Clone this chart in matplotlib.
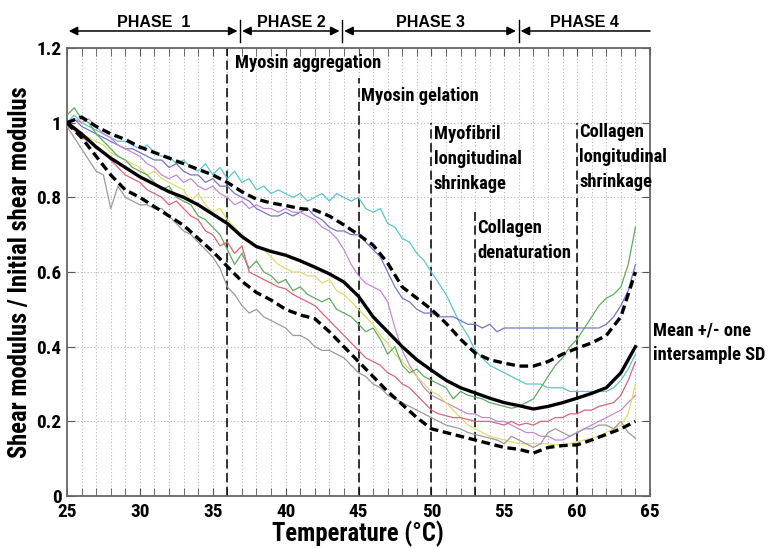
import matplotlib
matplotlib.use('Agg')
import matplotlib.pyplot as plt
import matplotlib.font_manager as fm
import matplotlib.transforms as mtransforms
import numpy as np

# Temperature grids (deg C)
temp_fine = np.arange(25.0, 64.01, 0.5)
temp = np.arange(25, 65)

# Individual samples (normalised shear modulus), read every 0.5 deg C
cyan_s = [1.00, 1.02, 1.00, 0.99, 0.98, 0.97, 0.96, 0.95, 0.95, 0.94, 0.93, 0.94, 0.92, 0.91, 0.91, 0.89,
          0.90, 0.88, 0.87, 0.89, 0.86, 0.88, 0.85, 0.87, 0.84, 0.85, 0.82, 0.83, 0.81, 0.82, 0.81, 0.80,
          0.81, 0.79, 0.80, 0.81, 0.79, 0.81, 0.80, 0.79, 0.80, 0.77, 0.76, 0.77, 0.73, 0.72, 0.69, 0.68,
          0.65, 0.63, 0.60, 0.57, 0.54, 0.50, 0.46, 0.43, 0.39, 0.37, 0.35, 0.34, 0.33, 0.32, 0.31, 0.30,
          0.30, 0.30, 0.29, 0.29, 0.29, 0.28, 0.28, 0.28, 0.28, 0.28, 0.28, 0.29, 0.31, 0.34, 0.38]
blue_s = [1.00, 1.01, 0.99, 0.98, 0.97, 0.96, 0.95, 0.94, 0.93, 0.93, 0.92, 0.91, 0.90, 0.90, 0.88, 0.89,
          0.87, 0.86, 0.86, 0.84, 0.85, 0.83, 0.83, 0.81, 0.80, 0.79, 0.77, 0.76, 0.75, 0.75, 0.76, 0.75,
          0.76, 0.77, 0.75, 0.74, 0.72, 0.71, 0.71, 0.70, 0.70, 0.68, 0.66, 0.64, 0.60, 0.56, 0.53, 0.52,
          0.50, 0.49, 0.49, 0.48, 0.48, 0.48, 0.47, 0.46, 0.46, 0.45, 0.46, 0.44, 0.45, 0.45, 0.45, 0.45,
          0.45, 0.45, 0.45, 0.45, 0.45, 0.45, 0.45, 0.45, 0.45, 0.45, 0.46, 0.48, 0.51, 0.55, 0.62]
violet_s = [1.00, 1.01, 1.00, 1.01, 0.99, 0.97, 0.96, 0.94, 0.93, 0.92, 0.91, 0.89, 0.88, 0.86, 0.85, 0.86,
            0.84, 0.85, 0.83, 0.82, 0.83, 0.81, 0.80, 0.78, 0.79, 0.77, 0.78, 0.77, 0.77, 0.76, 0.77, 0.76,
            0.76, 0.75, 0.74, 0.72, 0.71, 0.69, 0.66, 0.62, 0.59, 0.57, 0.56, 0.55, 0.52, 0.45, 0.39, 0.35,
            0.32, 0.29, 0.27, 0.26, 0.25, 0.24, 0.23, 0.22, 0.22, 0.21, 0.21, 0.20, 0.20, 0.19, 0.18, 0.17,
            0.17, 0.16, 0.16, 0.15, 0.15, 0.16, 0.17, 0.18, 0.19, 0.20, 0.21, 0.22, 0.23, 0.25, 0.27]
yellow_s = [1.00, 0.99, 0.97, 0.96, 0.95, 0.94, 0.92, 0.91, 0.90, 0.89, 0.88, 0.86, 0.87, 0.85, 0.84, 0.83,
            0.82, 0.79, 0.81, 0.78, 0.76, 0.77, 0.74, 0.72, 0.70, 0.68, 0.67, 0.66, 0.64, 0.62, 0.61, 0.60,
            0.60, 0.59, 0.59, 0.57, 0.58, 0.55, 0.54, 0.52, 0.50, 0.48, 0.46, 0.43, 0.41, 0.38, 0.36, 0.34,
            0.32, 0.30, 0.28, 0.27, 0.25, 0.23, 0.21, 0.19, 0.18, 0.17, 0.16, 0.155, 0.15, 0.145, 0.14, 0.14,
            0.14, 0.14, 0.14, 0.137, 0.137, 0.14, 0.145, 0.15, 0.155, 0.16, 0.17, 0.18, 0.19, 0.22, 0.30]
green_s = [1.02, 1.04, 1.01, 1.00, 0.97, 0.95, 0.93, 0.91, 0.90, 0.88, 0.87, 0.86, 0.84, 0.82, 0.83, 0.80,
           0.79, 0.78, 0.75, 0.74, 0.72, 0.70, 0.66, 0.62, 0.65, 0.61, 0.63, 0.60, 0.59, 0.57, 0.58, 0.55,
           0.56, 0.54, 0.53, 0.52, 0.53, 0.50, 0.49, 0.48, 0.46, 0.44, 0.45, 0.42, 0.38, 0.40, 0.35, 0.33,
           0.34, 0.32, 0.31, 0.30, 0.29, 0.26, 0.28, 0.27, 0.265, 0.26, 0.25, 0.245, 0.24, 0.235, 0.24, 0.25,
           0.26, 0.29, 0.32, 0.35, 0.37, 0.40, 0.42, 0.45, 0.48, 0.51, 0.53, 0.54, 0.56, 0.62, 0.72]
red_s = [0.99, 0.98, 0.96, 0.95, 0.93, 0.92, 0.90, 0.88, 0.86, 0.85, 0.84, 0.82, 0.81, 0.80, 0.78, 0.79,
         0.77, 0.75, 0.74, 0.71, 0.70, 0.67, 0.68, 0.65, 0.67, 0.60, 0.59, 0.58, 0.57, 0.56, 0.555, 0.54,
         0.53, 0.52, 0.51, 0.49, 0.47, 0.45, 0.43, 0.41, 0.39, 0.37, 0.36, 0.35, 0.33, 0.32, 0.30, 0.29,
         0.27, 0.25, 0.23, 0.22, 0.215, 0.21, 0.21, 0.205, 0.20, 0.20, 0.20, 0.195, 0.19, 0.20, 0.19, 0.195,
         0.19, 0.20, 0.20, 0.21, 0.21, 0.22, 0.22, 0.23, 0.23, 0.24, 0.245, 0.25, 0.27, 0.31, 0.36]
grey_s = [0.99, 0.96, 0.93, 0.90, 0.87, 0.86, 0.77, 0.83, 0.80, 0.79, 0.78, 0.78, 0.77, 0.77, 0.75, 0.73,
          0.71, 0.70, 0.68, 0.66, 0.64, 0.61, 0.56, 0.54, 0.51, 0.49, 0.50, 0.48, 0.47, 0.46, 0.45, 0.43,
          0.43, 0.42, 0.40, 0.39, 0.39, 0.38, 0.37, 0.35, 0.33, 0.32, 0.30, 0.29, 0.27, 0.26, 0.25, 0.24,
          0.23, 0.22, 0.21, 0.20, 0.19, 0.185, 0.18, 0.17, 0.165, 0.16, 0.155, 0.15, 0.14, 0.16, 0.15, 0.14,
          0.13, 0.14, 0.17, 0.18, 0.17, 0.16, 0.17, 0.18, 0.18, 0.19, 0.19, 0.18, 0.20, 0.17, 0.155]

samples = [cyan_s, blue_s, violet_s, yellow_s, green_s, red_s, grey_s]
sample_colors = ['#5cc8c8', '#7676c6', '#c48ad0', '#dede6a', '#62aa62', '#d96677', '#9b9b9b']

# Mean and +/- one intersample SD, every 1 deg C
mean_g = [1.00, 0.97, 0.935, 0.905, 0.88, 0.855, 0.835, 0.815, 0.80, 0.78, 0.755, 0.73, 0.695, 0.668,
          0.655, 0.645, 0.63, 0.613, 0.595, 0.573, 0.535, 0.48, 0.44, 0.40, 0.365, 0.337, 0.31, 0.29,
          0.276, 0.262, 0.25, 0.242, 0.233, 0.24, 0.25, 0.262, 0.275, 0.29, 0.33, 0.40]
upper_g = [1.00, 1.015, 0.99, 0.97, 0.955, 0.935, 0.92, 0.905, 0.89, 0.875, 0.86, 0.84, 0.815, 0.795,
           0.785, 0.778, 0.77, 0.766, 0.75, 0.726, 0.70, 0.672, 0.624, 0.56, 0.53, 0.50, 0.463, 0.42,
           0.383, 0.365, 0.356, 0.348, 0.348, 0.36, 0.38, 0.396, 0.41, 0.43, 0.48, 0.60]
lower_g = [1.00, 0.96, 0.91, 0.86, 0.82, 0.80, 0.775, 0.75, 0.725, 0.69, 0.655, 0.615, 0.575, 0.545,
           0.525, 0.50, 0.485, 0.475, 0.44, 0.40, 0.36, 0.32, 0.28, 0.245, 0.21, 0.18, 0.17, 0.16,
           0.15, 0.14, 0.13, 0.125, 0.115, 0.13, 0.135, 0.137, 0.15, 0.165, 0.18, 0.20]

# Transition temperatures and labels
events = [36, 45, 50, 53, 60]
event_tops = [1.2, 1.12, 1.0, 0.76, 1.0]
event_labels = ['Myosin aggregation', 'Myosin gelation', 'Myofibril\nlongitudinal\nshrinkage',
                'Collagen\ndenaturation', 'Collagen\nlongitudinal\nshrinkage']
label_x = [36.55, 45.15, 50.15, 53.15, 60.15]
label_y = [1.16, 1.071, 0.903, 0.684, 0.908]

phase_bounds = [25, 36.9, 43.9, 56.0, 65]
phase_names = ['PHASE  1', 'PHASE 2', 'PHASE 3', 'PHASE 4']


def narrow_bold():
    # look for a condensed / narrow bold face; fall back to DejaVu Sans Bold
    prefs = ['liberation sans narrow', 'roboto condensed', 'open sans condensed',
             'noto sans condensed', 'dejavu sans condensed']
    found = []
    for f in fm.fontManager.ttflist:
        key = (f.name + ' ' + f.fname).lower()
        if ('narrow' in key or 'condensed' in key or f.stretch in ('condensed', 'semi-condensed')) \
                and ('bold' in key or f.weight in ('bold', 700)):
            found.append(f)
    if found:
        def rank(f):
            key = (f.name + ' ' + f.fname).lower()
            for i, p in enumerate(prefs):
                if p in key or p.replace(' ', '') in key:
                    return i
            return len(prefs)
        found.sort(key=rank)
        return fm.FontProperties(fname=found[0].fname)
    return fm.FontProperties(family='DejaVu Sans', weight='bold')


nprop = narrow_bold()
avail = {f.name for f in fm.fontManager.ttflist}
sfont = 'Liberation Sans' if 'Liberation Sans' in avail else 'DejaVu Sans'

fig = plt.figure(figsize=(7.69, 5.48), dpi=100)
ax = fig.add_axes([0.0871, 0.0949, 0.7582, 0.8175])
renderer = fig.canvas.get_renderer()


def fit(t, target, vertical=False):
    # scale the font so the text spans about as many pixels as in the source figure
    bb = t.get_window_extent(renderer)
    cur = bb.height if vertical else bb.width
    t.set_fontsize(t.get_fontsize() * target / cur)


def line_step(size, step_px):
    probe = fig.text(0, 0, 'lp', fontproperties=nprop, fontsize=size)
    h = probe.get_window_extent(renderer).height
    probe.remove()
    return step_px / h


for s, c in zip(samples, sample_colors):
    ax.plot(temp_fine, s, color=c, lw=0.9, zorder=3)
ax.plot(temp, mean_g, color='black', lw=2.4, zorder=4)
ax.plot(temp, upper_g, color='black', lw=2.4, ls=(0, (2.6, 1.4)), zorder=4)
ax.plot(temp, lower_g, color='black', lw=2.4, ls=(0, (2.6, 1.4)), zorder=4)

for t, top in zip(events, event_tops):
    ax.plot([t, t], [0, top], color='black', lw=1.1, ls=(0, (6, 3)), zorder=2)

# common annotation size, taken from the width of the first label
probe = fig.text(0, 0, 'Myosin aggregation', fontproperties=nprop, fontsize=14)
fit(probe, 148)
ann_size = probe.get_fontsize()
probe.remove()
lsp = line_step(ann_size, 27)
for x, txt, y in zip(label_x, event_labels, label_y):
    ax.text(x, y, txt, ha='left', va='center', fontproperties=nprop, fontsize=ann_size, linespacing=lsp)
ax.text(65.2, 0.41, 'Mean +/- one\nintersample SD', ha='left', va='center',
        fontproperties=nprop, fontsize=ann_size, linespacing=lsp, clip_on=False)

ax.set_xlim(25, 65)
ax.set_ylim(0, 1.2)
ax.set_xticks(range(25, 66, 5))
ax.set_xticks(range(25, 66), minor=True)
ax.set_yticks([0, 0.2, 0.4, 0.6, 0.8, 1.0, 1.2])
ax.set_yticklabels(['0', '0.2', '0.4', '0.6', '0.8', '1', '1.2'])
ax.tick_params(which='both', direction='in', top=True, right=True, length=6, color='#555555')
ax.tick_params(axis='x', pad=5)
ax.tick_params(axis='y', pad=4)
probe = fig.text(0, 0, '30', fontproperties=nprop, fontsize=13)
fit(probe, 19.5)
tick_size = probe.get_fontsize()
probe.remove()
for lab in ax.get_xticklabels() + ax.get_yticklabels():
    lab.set_fontproperties(nprop)
    lab.set_fontsize(tick_size)
ax.grid(which='both', axis='x', color='#b5b5b5', lw=0.8, ls=(0, (1, 2)))
ax.grid(which='major', axis='y', color='#b5b5b5', lw=0.8, ls=(0, (1, 2)))
for sp in ax.spines.values():
    sp.set_color('#666666')
    sp.set_linewidth(1.3)

ylab = fig.text(0.026, 0.504, 'Shear modulus / Initial shear modulus', rotation=90, ha='center',
                va='center', fontproperties=nprop, fontsize=18)
fit(ylab, 372, vertical=True)
xlab = fig.text(0.466, 0.026, 'Temperature (\u00b0C)', ha='center', va='center', fontproperties=nprop,
                fontsize=18)
fit(xlab, 172)

# Phase arrows above the axes
trans = mtransforms.blended_transform_factory(ax.transData, ax.transAxes)
for i, name in enumerate(phase_names):
    a, b = phase_bounds[i], phase_bounds[i + 1]
    last = i == len(phase_names) - 1
    x0 = a + 0.12
    x1 = b if last else b - 0.2
    ax.annotate('', xy=(x0, 1.038), xytext=(x1, 1.038), xycoords=trans, textcoords=trans,
                arrowprops=dict(arrowstyle='-|>' if last else '<|-|>', color='black', lw=1.1,
                                shrinkA=0, shrinkB=0, mutation_scale=13), annotation_clip=False)
    ax.text((a + b) / 2, 1.058, name, transform=trans, ha='center', va='center', fontsize=11.5,
            family=sfont, weight='bold', clip_on=False)
for b in phase_bounds[1:-1]:
    ax.plot([b, b], [1.0134, 1.0625], transform=trans, color='black', lw=1.0, clip_on=False)

fig.savefig('out.png', dpi=100)
